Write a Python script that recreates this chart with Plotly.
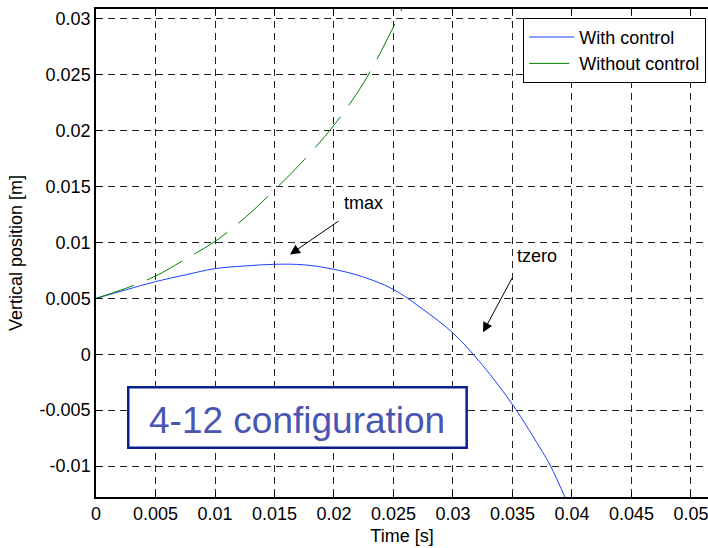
import plotly.graph_objects as go

# time samples [s] and vertical position [m]
t_ctrl = [0, 0.0025, 0.005, 0.0075, 0.01, 0.0125, 0.015, 0.0175, 0.02, 0.0225,
          0.025, 0.0275, 0.03, 0.0325, 0.035, 0.0375, 0.0382, 0.0395]
y_ctrl = [0.005, 0.00576, 0.0065, 0.0071, 0.00766, 0.0079, 0.00805, 0.0080, 0.0076, 0.0069,
          0.0058, 0.0040, 0.0019, -0.0010, -0.0045, -0.0087, -0.0100, -0.0130]

t_free = [0, 0.0025, 0.005, 0.0075, 0.01, 0.0125, 0.015, 0.0175, 0.02, 0.0225, 0.025, 0.026]
y_free = [0.005, 0.0059, 0.0070, 0.0085, 0.0101, 0.0122, 0.0147, 0.0174, 0.0205, 0.0243, 0.0293, 0.0316]

x_ticks = [0, 0.005, 0.01, 0.015, 0.02, 0.025, 0.03, 0.035, 0.04, 0.045, 0.05]
x_labels = ['0', '0.005', '0.01', '0.015', '0.02', '0.025', '0.03', '0.035', '0.04', '0.045', '0.05']
y_ticks = [-0.01, -0.005, 0, 0.005, 0.01, 0.015, 0.02, 0.025, 0.03]
y_labels = ['-0.01', '-0.005', '0', '0.005', '0.01', '0.015', '0.02', '0.025', '0.03']

FONT = 'Liberation Sans, Arial, sans-serif'

fig = go.Figure()
fig.add_trace(go.Scatter(x=t_ctrl, y=y_ctrl, mode='lines', name='With control',
                         line=dict(color='#1f3fff', width=1, shape='spline')))
fig.add_trace(go.Scatter(x=t_free, y=y_free, mode='lines', name='Without control',
                         line=dict(color='#008000', width=1, shape='spline', dash='40px,14px')))

axis_common = dict(showline=True, linecolor='black', linewidth=1.5,
                   ticks='inside', ticklen=5, tickcolor='black',
                   showgrid=True, gridcolor='#222222', gridwidth=1, griddash='7px,5px',
                   zeroline=False, tickfont=dict(size=18, color='black', family=FONT),
                   ticklabeloverflow='allow')

fig.update_xaxes(range=[0, 0.05143], tickvals=x_ticks, ticktext=x_labels, mirror='ticks',
                 title=dict(text='Time [s]', font=dict(size=18, color='black', family=FONT), standoff=6),
                 **axis_common)
fig.update_yaxes(range=[-0.01277, 0.03089], tickvals=y_ticks, ticktext=y_labels, mirror=False,
                 title=dict(text='Vertical position [m]', font=dict(size=18, color='black', family=FONT), standoff=12),
                 **axis_common)

# "4-12 configuration" box
fig.add_shape(type='rect', xref='x', yref='y', x0=0.00271, x1=0.03115, y0=-0.00837, y1=-0.00294,
              line=dict(color='#0a2090', width=2.5), fillcolor='white', layer='above')
fig.add_annotation(x=0.01685, y=-0.0059, xref='x', yref='y', text='4-12 configuration', showarrow=False,
                   font=dict(size=37, color='#4a55b0', family=FONT))

# arrows and their labels
fig.add_annotation(x=0.0163, y=0.00893, ax=0.0205, ay=0.0120, xref='x', yref='y', axref='x', ayref='y',
                   text='', showarrow=True, arrowhead=2, arrowsize=2, arrowwidth=1, arrowcolor='black')
fig.add_annotation(x=0.02244, y=0.01357, xref='x', yref='y', text='tmax', showarrow=False,
                   font=dict(size=18, color='black', family=FONT))
fig.add_annotation(x=0.03252, y=0.00196, ax=0.03504, ay=0.00696, xref='x', yref='y', axref='x', ayref='y',
                   text='', showarrow=True, arrowhead=2, arrowsize=2, arrowwidth=1, arrowcolor='black')
fig.add_annotation(x=0.03706, y=0.00875, xref='x', yref='y', text='tzero', showarrow=False,
                   font=dict(size=18, color='black', family=FONT))

fig.update_layout(width=708, height=548, margin=dict(l=96, r=0, t=9, b=51),
                  paper_bgcolor='white', plot_bgcolor='white',
                  font=dict(family=FONT, size=18, color='black'),
                  legend=dict(x=0.997, y=0.982, xanchor='right', yanchor='top',
                              bgcolor='white', bordercolor='black', borderwidth=1,
                              font=dict(size=18, color='black', family=FONT),
                              tracegroupgap=0, itemwidth=45))

# drop the default body margin so the figure fills the window exactly
fig.write_html('out.html', config={'displayModeBar': False},
               post_script="document.body.style.margin='0';")
